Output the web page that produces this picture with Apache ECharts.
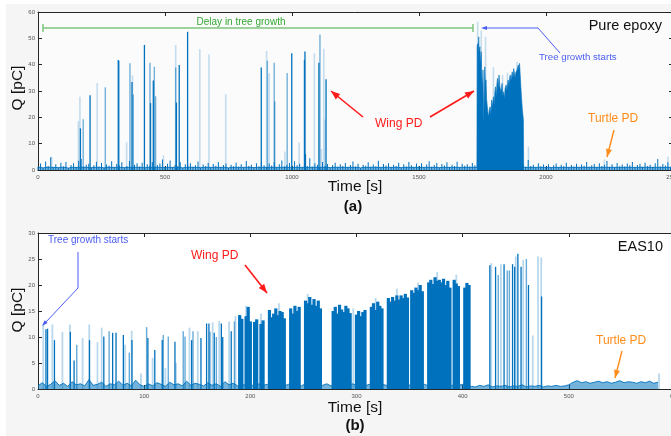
<!DOCTYPE html>
<html><head><meta charset="utf-8">
<script src="https://cdn.jsdelivr.net/npm/echarts@6/dist/echarts.min.js"></script>
<style>html,body{margin:0;padding:0;background:#fff}#c{width:671px;height:436px}</style>
</head><body><div id="c"></div>
<script>
// ---------- Panel (a): Pure epoxy ----------
var aXTicks = [0, 500, 1000, 1500, 2000, 2500];
var aYTicks = [0, 10, 20, 30, 40, 50, 60];
var aNoiseStep = 10; // s between noise samples
var aNoise = [
1.2,2.5,0.8,3.2,1.5,4.8,1.0,2.2,0.9,2.8,
1.4,3.0,0.7,1.9,2.6,1.1,3.5,4.2,1.3,2.0,
2.4,0.9,1.8,3.1,1.2,2.7,0.8,2.1,1.6,3.3,
1.0,2.3,1.7,2.9,0.9,1.5,3.4,1.1,2.0,2.6,
1.3,2.8,0.8,2.2,1.6,3.0,1.2,1.9,2.5,4.0,
1.1,2.4,3.6,1.0,2.0,1.4,2.9,0.8,2.2,1.7,
2.6,1.2,1.8,3.2,0.9,2.1,1.5,2.7,1.0,2.3,
1.6,3.0,1.1,1.9,2.5,0.8,2.0,1.4,2.8,1.2,
2.2,1.0,3.4,1.5,2.0,0.9,2.6,1.3,3.1,1.8,
1.1,2.5,1.7,2.9,1.0,2.2,3.6,1.4,2.0,2.7,
1.2,3.3,1.8,2.4,1.0,2.1,1.5,4.5,1.3,2.6,
2.0,1.1,3.0,1.6,2.3,0.9,1.9,2.8,1.2,2.2,
1.5,2.7,1.0,1.9,3.2,1.3,2.4,0.8,2.0,1.6,
2.9,1.2,2.1,1.4,3.5,1.0,2.3,1.7,2.6,1.1,
2.0,1.5,2.8,0.9,2.2,1.3,3.0,1.8,1.1,2.5,
1.4,2.6,1.0,2.1,3.3,1.2,1.9,2.7,0.9,2.3,
1.7,2.9,1.1,2.0,1.5,3.1,1.0,2.4,1.6,2.2,
1.3,2.7,1.8,3.0,4.0,4.0,4.0,4.0,4.0,4.0,
4.0,4.0,4.0,4.0,4.0,4.0,4.0,4.0,4.0,4.0,
3.0,2.4,1.2,3.8,1.5,2.0,1.0,2.6,1.4,2.1,
1.2,2.2,0.9,1.8,2.5,1.1,2.0,1.4,2.8,1.0,
1.9,1.3,2.4,1.0,2.1,1.6,3.0,1.2,1.8,2.3,
1.1,2.6,1.5,2.0,3.4,1.2,2.2,1.0,2.7,1.4,
2.1,1.3,2.5,1.8,3.0,1.0,1.9,2.4,1.2,2.8,
1.5,2.0,1.1,2.6,4.2,1.3,2.3,1.7,2.9,1.2
];
var aSpikeDark = [[167,15.8],[205,28.4],[316,41.8],[318,41.5],[370,33.4],[419,47.5],[443,25.4],[454,34],
  [545,25.6],[556,39.9],[589,52.5],[879,38.9],[999,44.3],[1049,41.8],[1051,45],[1053,6],[1106,40.7],[1134,34.5]];
var aSpikeMid = [[178,19.3],[265,31.4],[362,40.5],[375,28.7],[441,40.7],[458,39.2],[463,28],[542,38.9],
  [903,41.5],[930,40.7],[932,26],[981,36.8],[1110,51.5]];
var aSpikeLight = [[54,5],[159,18.6],[165,27.8],[233,33],[349,10.5],[372,36],[494,5.5],[542,47.5],[637,45.9],
  [673,43.9],[739,28.7],[900,45.2],[910,36.7],[972,7],[1028,10.4],[1088,44.3],[1116,8],[1125,46],[1130,19.2],
  [1731,56.3],[1745,53],[1762,50.6],[1793,39],[1829,36],[1848,37],[1886,41],[1931,8.9],[2230,4],[2480,5]];
var aBurst = [[1728,1],[1729,47],[1731,48],[1733,44],[1735,50.6],[1737,45],[1740,46.8],[1742,40],[1745,44.9],
  [1747,36],[1750,31.6],[1752,38],[1755,17.7],[1757,30],[1759,39.2],[1761,33],[1764,34.2],[1766,27],[1769,24],
  [1771,22],[1774,20.2],[1777,23],[1780,24],[1783,21],[1786,26.6],[1789,24],[1793,27.8],[1796,25],[1799,30],
  [1801,31.6],[1804,28],[1807,33],[1809,34.8],[1812,31],[1815,36.1],[1818,32],[1822,29.7],[1825,31],[1827,32.9],
  [1830,28],[1833,29.7],[1836,27],[1839,31],[1843,32.3],[1846,30],[1849,33],[1851,34.2],[1854,32],[1857,35],
  [1859,36.1],[1862,34],[1865,36],[1867,37.3],[1870,35],[1873,38.5],[1875,38],[1878,35],[1881,37],[1883,36.7],
  [1886,38],[1889,37.5],[1891,39.9],[1894,38],[1896,40.5],[1898,37],[1901,31.6],[1904,27],[1907,22.8],[1909,21],
  [1911,19],[1912,1]];

// ---------- Panel (b): EAS10 ----------
var bXTicks = [0, 100, 200, 300, 400, 500, 600];
var bYTicks = [0, 5, 10, 15, 20, 25, 30];
var bNoiseStep = 4;
var bNoise = [
0.6,1.2,0.5,0.9,1.6,0.7,1.1,0.5,1.4,0.8,
1.0,0.6,1.8,0.7,0.9,1.3,0.5,1.0,0.8,1.5,
0.7,1.1,0.6,1.7,0.8,0.5,1.0,0.6,1.2,0.9,
0.5,1.3,0.8,1.0,0.6,1.5,0.7,1.1,0.9,0.6,
1.2,0.7,1.0,0.5,1.4,0.8,1.1,0.6,0.9,0.7,
0.8,0.6,1.0,0.7,0.9,0.5,0.8,1.1,0.6,0.9,
0.7,0.9,0.6,1.0,0.8,0.6,0.9,0.7,1.0,0.6,
0.8,0.7,0.9,0.6,1.0,0.7,0.8,0.6,0.9,0.7,
0.6,0.9,0.7,1.0,0.8,0.6,0.9,0.7,0.8,1.0,
0.7,0.9,0.6,0.8,1.0,0.7,0.9,0.6,0.8,0.7,
0.9,0.6,0.5,0.4,0.7,0.5,0.8,0.4,0.6,0.5,
0.7,0.4,0.6,0.5,0.8,0.4,0.6,0.5,0.7,0.4,
0.6,0.5,0.7,0.5,0.6,0.8,1.3,1.6,1.2,1.4,
1.1,1.3,1.5,1.2,1.4,1.1,1.3,1.6,1.2,1.4,
1.3,1.1,1.4,1.2,1.5,1.1,1.3
];
var bSpikeDark = [[7.5,11.5],[9,11.6],[15.5,9.4],[30.5,11],[34,5.5],[48.5,9.4],[62,10.1],[70.3,10.8],[73.5,10.8],
  [80.4,10.4],[88.5,9.4],[103.5,9.8],[110,7.5],[117,9.4],[129,9.1],[144.7,9.4],[153.5,9.8],[158.8,12.6],[161,12.6],
  [166,10.8],[172.7,12.6],[174,10],[182,11.1],[189.5,14.2],
  [425.6,23.8],[431,23.5],[439,24],[447,24],[449,23.5],[452,26],[455,23.5],[462,20],[474.3,17.8]];
var bSpikeMid = [[36.5,8.5],[67,11.1],[86,7],[102.3,11.9],[118,10.4],[122.7,10.1],[136.8,11.1],[138.5,10.1],
  [146,11.1],[162,11],[168,10],[185,13],[433.5,21.9],[442,22.8],[444,22.8],[460,25]];
var bSpikeLight = [[5,12.3],[13.5,12.4],[23,11],[30,12.4],[42,9.8],[48.3,12.4],[56,9],[60,11.8],[82,8.5],[88.2,11.2],
  [97,3],[108,6],[120,4],[130,5],[142.7,11.8],[150.5,11.1],[164.5,12.8],[170.7,13.1],[180,13],[186,14],[196,16],
  [210,14.5],[227,16.5],[254,18.3],[297,15.5],[318,17.5],[338,19.3],[358,20.5],[376,22.5],[394,22],
  [427,24.2],[436,24],[450,25.5],[457,24.8],[466,10.3],[471,25.5],[474,25.3],[585,3]];
var bDense = [[190,14.2],[192,13.5],[196,14],[198,15.8],[200,13],[204,12.9],[206,13.4],[210,12.5],[212,13.2],
  [218,15.2],[220,13.8],[222,14.5],[224,15.5],[226,14.2],[228,15],[230,14.8],[232,13.6],[238,15.5],[240,14.5],
  [242,16],[244,15],[246,15.8],[252,17],[254,16.5],[256,17.7],[258,16.2],[260,17.3],[262,16],[264,17],[266,15.5],
  [278,15],[280,15.8],[282,14.5],[284,16.2],[286,15.3],[288,14.8],[290,16],[292,15.5],[294,14.6],[300,14.3],
  [302,15],[304,14],[306,14.8],[308,15.2],[314,15.8],[316,16.5],[318,15.2],[320,16.8],[322,16],[324,15.5],
  [330,17.5],[332,16.8],[334,17.7],[336,17],[338,18],[340,17.2],[342,18],[344,17.5],[346,18.3],[348,17.6],
  [352,19],[354,18.5],[356,19.5],[358,19],[360,20],[362,18.8],[368,20.5],[370,21],[372,20.2],[374,21.5],
  [376,20.8],[378,21],[380,20.5],[382,21.2],[384,20],[386,20.8],[388,19.5],[392,21],[394,20.3],[396,19.8],
  [402,19.5],[404,20.4],[406,20]];

var BLUE = '#0072BD';
function series2(values, step){ return values.map(function(v,i){ return [i*step, v]; }); }

function spikes(data, xi, yi, color, w, z){
  return {type:'custom', xAxisIndex:xi, yAxisIndex:yi, data:data, z:z||3, encode:{x:0,y:1},
    renderItem:function(params, api){
      var b = api.coord([api.value(0), 0]);
      var t = api.coord([api.value(0), api.value(1)]);
      return {type:'rect', shape:{x:b[0]-w/2, y:t[1], width:w, height:b[1]-t[1]}, style:{fill:color}};
    }};
}
function noiseLine(data, xi, yi, areaOp){
  return {type:'line', xAxisIndex:xi, yAxisIndex:yi, data:data, symbol:'none', z:2,
    lineStyle:{width:0.9, color:BLUE}, itemStyle:{color:BLUE}, areaStyle:{color:BLUE, opacity:areaOp}};
}

var labelStyle = {fontSize:6, color:'#555', fontFamily:'Liberation Sans, Arial',
  formatter:function(v){ return String(v); }};
function xAx(grid, ticks, pos){
  return {type:'value', gridIndex:grid, position:pos, min:ticks[0], max:ticks[ticks.length-1],
    interval:ticks[1]-ticks[0],
    axisLine:{show:true, onZero:false, lineStyle:{color:'#262626', width:1}},
    axisTick:{show:true, inside:true, length:4, lineStyle:{color:'#262626'}},
    axisLabel:Object.assign({show:pos==='bottom', margin:4}, labelStyle),
    splitLine:{show:false}};
}
function yAx(grid, ticks, pos){
  return {type:'value', gridIndex:grid, position:pos, min:ticks[0], max:ticks[ticks.length-1],
    interval:ticks[1]-ticks[0],
    axisLine:{show:true, onZero:false, lineStyle:{color:'#262626', width:1}},
    axisTick:{show:true, inside:true, length:4, lineStyle:{color:'#262626'}},
    axisLabel:Object.assign({show:pos==='left', margin:3}, labelStyle),
    splitLine:{show:false}};
}

function txt(s, x, y, color, size, align, weight){
  return {type:'text', z:50, x:x, y:y, style:{text:s, x:0, y:0, fill:color, fontSize:size,
    fontFamily:'Liberation Sans, Arial, sans-serif', fontWeight:weight||'normal',
    align:align||'left', textAlign:align||'left', verticalAlign:'middle', textVerticalAlign:'middle'}};
}
function seg(pts, color, w){
  return {type:'polyline', z:50, shape:{points:pts}, style:{stroke:color, lineWidth:w||1, fill:null}};
}
function head(tip, from, color, len, wid){
  var dx=tip[0]-from[0], dy=tip[1]-from[1], L=Math.sqrt(dx*dx+dy*dy); dx/=L; dy/=L;
  var bx=tip[0]-dx*len, by=tip[1]-dy*len, nx=-dy*wid/2, ny=dx*wid/2;
  return {type:'polygon', z:51, shape:{points:[tip,[bx+nx,by+ny],[bx-nx,by-ny]]}, style:{fill:color}};
}
function arrow(from, tip, color, w, len, wid){
  return [seg([from, tip], color, w), head(tip, from, color, len, wid)];
}

var RED='#ff1a1a', ORANGE='#ff8c1a', BLUEANN='#4a5cf2', GREEN='#7cc47c';
var graphics = [
  {type:'rect', z:-10, shape:{x:6, y:4, width:665, height:432}, style:{fill:'#f5f5f5'}},
  seg([[43,28],[473,28]], GREEN, 1.5),
  seg([[43,24],[43,32]], GREEN, 1.5),
  seg([[473,24],[473,32]], GREEN, 1.5),
  txt('Delay in tree growth', 241, 22, '#33a833', 10, 'center'),
  txt('Pure epoxy', 662, 26, '#111', 14.5, 'right'),
  seg([[560,53],[538,28],[486,28]], BLUEANN, 1),
  head([481,28],[538,28], BLUEANN, 6, 4),
  txt('Tree growth starts', 539, 57, BLUEANN, 9.7, 'left'),
  txt('Wing PD', 375, 124, RED, 12, 'left'),
  txt('Turtle PD', 588, 119, ORANGE, 12, 'left'),
  txt('EAS10', 663, 247, '#111', 14.5, 'right'),
  txt('Tree growth starts', 48, 240, BLUEANN, 10, 'left'),
  seg([[78,252],[78,288],[46,322]], BLUEANN, 1),
  head([42,326],[78,288], BLUEANN, 6, 4),
  txt('Wing PD', 191, 256, RED, 12, 'left'),
  txt('Turtle PD', 596, 341, ORANGE, 12, 'left'),
  txt('Time [s]', 355, 187, '#111', 15.5, 'center'),
  txt('(a)', 353, 207, '#111', 15, 'center', 'bold'),
  txt('Time [s]', 355, 408, '#111', 15.5, 'center'),
  txt('(b)', 355, 426, '#111', 15, 'center', 'bold'),
  {type:'text', z:50, x:18, y:88, rotation:Math.PI/2, style:{text:'Q [pC]', x:0, y:0, fill:'#111', fontSize:15.5,
    fontFamily:'Liberation Sans, Arial, sans-serif', align:'center', textAlign:'center', verticalAlign:'middle', textVerticalAlign:'middle'}},
  {type:'text', z:50, x:18, y:310, rotation:Math.PI/2, style:{text:'Q [pC]', x:0, y:0, fill:'#111', fontSize:15.5,
    fontFamily:'Liberation Sans, Arial, sans-serif', align:'center', textAlign:'center', verticalAlign:'middle', textVerticalAlign:'middle'}}
];
graphics = graphics.concat(
  arrow([363,117],[331,91], RED, 1.6, 9, 7),
  arrow([430,117],[474,91], RED, 1.6, 9, 7),
  arrow([614,130],[607,157], ORANGE, 1.4, 8, 6),
  arrow([245,265],[267,293], RED, 1.6, 9, 7),
  arrow([622,351],[615,378], ORANGE, 1.4, 8, 6)
);

var chart = echarts.init(document.getElementById('c'), null, {renderer:'canvas'});
chart.setOption({
  animation:false,
  backgroundColor:'#ffffff',
  grid:[
    {left:38, top:12, right:-2, bottom:266, show:true, backgroundColor:'#fbfbfb', borderWidth:0, outerBoundsMode:'none', containLabel:false},
    {left:38, top:233, right:-4, bottom:47, show:true, backgroundColor:'#ffffff', borderWidth:0, outerBoundsMode:'none', containLabel:false}
  ],
  xAxis:[xAx(0,aXTicks,'bottom'), xAx(0,aXTicks,'top'), xAx(1,bXTicks,'bottom'), xAx(1,bXTicks,'top')],
  yAxis:[yAx(0,aYTicks,'left'), yAx(0,aYTicks,'right'), yAx(1,bYTicks,'left'), yAx(1,bYTicks,'right')],
  series:[
    spikes(series2(aNoise, aNoiseStep), 0, 0, BLUE, 1.0, 2),
    noiseLine(series2(aNoise, aNoiseStep).map(function(p){ return [p[0], Math.min(p[1], 1.0)]; }), 0, 0, 0.5),
    spikes(aSpikeLight, 0, 0, 'rgba(0,114,189,0.22)', 1.6, 3),
    spikes(aSpikeMid, 0, 0, 'rgba(0,114,189,0.55)', 1.4, 4),
    spikes(aSpikeDark, 0, 0, BLUE, 1.3, 5),
    {type:'line', xAxisIndex:0, yAxisIndex:0, data:aBurst, symbol:'none', z:6,
      lineStyle:{width:0.6, color:BLUE}, areaStyle:{color:BLUE, opacity:1}},
    noiseLine(series2(bNoise, bNoiseStep), 2, 2, 0.55),
    spikes(bSpikeLight, 2, 2, 'rgba(0,114,189,0.28)', 1.8, 3),
    spikes(bSpikeMid, 2, 2, 'rgba(0,114,189,0.6)', 1.4, 4),
    spikes(bSpikeDark, 2, 2, BLUE, 1.3, 5),
    spikes(bDense, 2, 2, BLUE, 3.2, 5)
  ],
  graphic:{elements:graphics}
});
</script></body></html>
